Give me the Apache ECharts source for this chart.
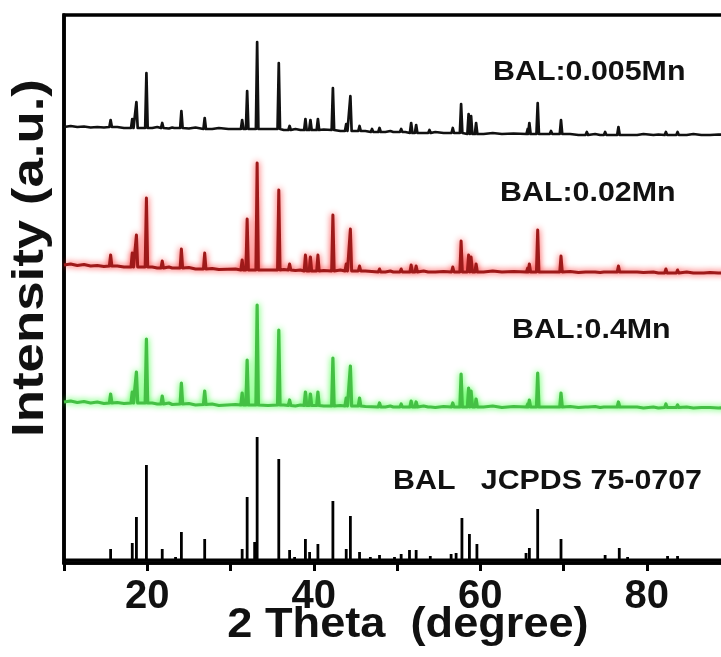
<!DOCTYPE html>
<html><head><meta charset="utf-8">
<script src="https://cdn.jsdelivr.net/npm/echarts@6/dist/echarts.min.js"></script>
<style>html,body{margin:0;padding:0;background:#fff}#c{width:721px;height:657px}</style>
</head><body><div id="c"></div>
<script>
// x tick labels shown
const xTickLabels = [20, 40, 60, 80];
const seriesNames = ['BAL:0.005Mn', 'BAL:0.02Mn', 'BAL:0.4Mn', 'BAL   JCPDS 75-0707'];

// peaks: [2theta, local baseline, peak top] (stacked a.u.)
const blackPeaks = [[15.6,436,443],[18.2,435,444],[18.7,435,461],[19.9,435,490],[21.8,435,440],[23.4,435,437],[24.1,435,452],[26.9,434,445],[29.9,434,436],[31.4,434,443],[32.0,434,472],[33.2,434,521],[35.8,434,500],[37.1,433,437],[39.0,433,444],[39.6,433,443],[40.5,433,444],[42.3,433,475],[43.9,432,439],[44.4,432,467],[45.5,432,437],[47.0,431,434],[47.9,431,435],[49.7,431,433],[50.5,431,434],[51.7,430,440],[52.3,430,438],[53.9,430,433],[56.7,430,435],[57.7,430,459],[58.6,429,449],[58.9,429,447],[59.5,429,440],[65.7,429,434],[65.9,429,440],[66.9,429,460],[68.5,429,432],[69.7,429,443],[72.8,428,431],[75.0,428,431],[76.6,428,436],[78.7,428,430],[82.3,428,431],[83.7,428,431],[86.7,428,430]];
const blackBase = [[10,436],[10.8,437],[11.6,436],[12.4,436.5],[13.2,435.5],[14,436],[14.8,435.5],[16.4,436],[17.2,435],[20.6,435],[21.2,436],[22.6,434.5],[23,435.5],[25,434.5],[25.8,435.5],[27.8,434],[28.6,435],[30.6,434],[34.5,434],[36.4,433],[37.8,434],[38.4,433],[41.2,433.5],[43.2,432],[46.2,432],[48.6,431],[49.2,432],[51,431],[53.2,430],[54.6,431],[55.6,430],[60.4,429],[61.5,430],[62.6,429],[64,429.5],[67.8,429],[70.8,429],[71.8,428],[73.8,429],[74.4,428],[77.8,428],[79.6,429],[80.8,428],[81.4,428.5],[84.8,428],[85.6,429],[87.6,428],[88.6,428.5],[90,428]];

const redPeaks = [[15.6,297,308],[18.2,296,310],[18.7,296,328],[19.9,296,365],[21.8,295,302],[24.1,295,314],[26.9,294,310],[31.4,293,303],[32.0,293,344],[33.2,293,400],[35.8,293,373],[37.1,293,299],[39.0,292,308],[39.6,292,306],[40.5,292,308],[42.3,292,348],[43.9,292,299],[44.4,292,334],[45.5,292,297],[47.9,291,294],[49.7,291,293],[50.5,291,294],[51.7,291,298],[52.3,291,297],[53.9,291,293],[56.7,291,296],[57.7,291,322],[58.6,291,308],[58.9,291,306],[59.5,291,299],[65.7,291,295],[65.9,291,299],[66.9,291,333],[68.5,291,293],[69.7,291,307],[72.8,291,293],[75.0,291,293],[76.6,291,297],[78.7,291,292],[82.3,290,294],[83.7,290,293],[86.7,290,292]];
const redBase = [[10,298],[10.8,299],[11.6,297.5],[12.4,298.5],[13.2,297],[14,297.5],[14.8,296.5],[16.4,297],[17.2,296],[20.6,296],[21.2,295],[22.6,296],[23,295],[25,295.5],[25.8,294],[27.8,294.5],[28.6,293.5],[30.6,294],[34.5,293],[36.4,293.5],[37.8,292.5],[38.4,293],[41.2,292.5],[43.2,293],[46.2,292],[48.6,291],[49.2,292],[51,291],[53.2,292],[54.6,291],[55.6,291.5],[60.4,291],[61.5,292],[62.6,291],[64,291.5],[67.8,291],[70.8,291.5],[71.8,290.5],[73.8,291],[74.4,290.5],[77.8,291],[79.6,290.5],[80.8,291],[81.4,290],[84.8,291],[85.6,290],[87.6,290.5],[88.6,290],[90,290.5]];

const greenPeaks = [[15.6,160,169],[18.2,160,171],[18.7,160,191],[19.9,160,224],[21.8,159,167],[24.1,159,180],[26.9,158.5,172],[31.4,158,170],[32.0,158,203],[33.2,158,258],[35.8,158,233],[37.1,157.5,163],[39.0,157.5,171],[39.6,157.5,169],[40.5,157.5,171],[42.3,157,205],[43.9,157,165],[44.4,157,197],[45.5,157,165],[47.9,156,160],[49.7,156,158],[50.5,156,159],[51.7,156,162],[52.3,156,161],[53.9,156,158],[56.7,156,160],[57.7,156,189],[58.6,156,175],[58.9,156,172],[59.5,156,164],[65.7,156,159],[65.9,156,163],[66.9,156,190],[68.5,156,158],[69.7,156,170],[72.8,156,158],[75.0,156,158],[76.6,156,161],[78.7,156,157],[82.3,155.5,159],[83.7,155.5,158],[86.7,155.5,157]];
const greenBase = [[10,161],[10.8,162],[11.6,160.5],[12.4,161.5],[13.2,160],[14,161],[14.8,159.5],[16.4,160.5],[17.2,159.5],[20.6,160],[21.2,159],[22.6,160],[23,158.5],[25,159.5],[25.8,158],[27.8,159],[28.6,157.5],[30.6,158.5],[34.5,157.5],[36.4,158],[37.8,157],[38.4,158],[41.2,157],[43.2,157.5],[46.2,156.5],[48.6,156],[49.2,157],[51,156],[53.2,157],[54.6,155.5],[55.6,156.5],[60.4,156],[61.5,157],[62.6,155.5],[64,156.5],[67.8,156],[70.8,156.5],[71.8,155.5],[73.8,156.5],[74.4,155.5],[77.8,156],[79.6,155],[80.8,156],[81.4,155],[84.8,156],[85.6,155],[87.6,155.5],[88.6,155],[90,155.5]];

// standard pattern sticks: [2theta, stick height]
const refBaseLevel = 3;
const refSticks = [[15.6,11],[18.2,17],[18.7,43],[19.9,95],[21.8,11],[23.4,3],[24.1,28],[26.9,21],[29.9,2],[31.4,11],[32.0,63],[32.9,18],[33.2,123],[35.8,101],[37.1,10],[37.7,3],[39.0,21],[39.5,8],[40.5,16],[42.3,59],[43.9,11],[44.4,44],[45.5,8],[46.8,3],[47.9,5],[49.7,3],[50.5,6],[51.5,10],[52.3,10],[54.0,4],[56.5,6],[57.1,7],[57.8,42],[58.7,26],[59.6,16],[64.3,2],[65.5,7],[65.9,12],[66.9,51],[68.5,2],[69.7,21],[71.8,2],[74.0,2],[75.0,5],[75.7,2],[76.7,12],[77.7,3],[78.7,2],[82.5,4],[83.7,4],[86.7,2]];

function trace(base, peaks) {
  const pts = base.map(p => [p[0], p[1]]);
  peaks.forEach(p => { pts.push([p[0] - 0.15, p[1]], [p[0], p[2]], [p[0] + 0.15, p[1]]); });
  pts.sort((a, b) => a[0] - b[0]);
  return pts;
}
function sticks(list, b) {
  const pts = [[10, b]];
  list.forEach(s => { pts.push([s[0], b], [s[0], b + s[1]], [s[0], b]); });
  pts.push([90, b]);
  return pts;
}

const F = 'Liberation Sans, Arial, sans-serif';
const chart = echarts.init(document.getElementById('c'), null, {renderer: 'canvas'});
function lbl(text, x, y, size, sx, rot, center) {
  const al = center ? 'center' : 'left';
  return {type: 'text', x: x, y: y, scaleX: sx, rotation: rot || 0, z: 100,
    style: {text: text, fill: '#111', font: 'bold ' + size + 'px ' + F, fontSize: size, fontWeight: 'bold', fontFamily: F,
      align: al, verticalAlign: 'middle', textAlign: al, textVerticalAlign: 'middle'}};
}
const option = {
  animation: false,
  backgroundColor: '#fff',
  grid: {left: 64, top: 15, width: 666, height: 548, outerBoundsMode: 'none', containLabel: false,
    show: true, borderColor: '#000', borderWidth: 3.5, backgroundColor: 'transparent'},
  xAxis: {type: 'value', min: 10, max: 90, interval: 10,
    axisLine: {show: true, onZero: false, lineStyle: {color: '#000', width: 3.5}},
    axisTick: {show: true, inside: false, length: 8, lineStyle: {color: '#000', width: 3}},
    axisLabel: {margin: 14, color: '#111', fontSize: 40, fontWeight: 'bold', fontFamily: F,
      formatter: v => xTickLabels.indexOf(v) >= 0 ? String(v) : ''},
    splitLine: {show: false}},
  yAxis: {type: 'value', min: 0, max: 548,
    axisLine: {show: true, lineStyle: {color: '#000', width: 3.5}},
    axisTick: {show: false}, axisLabel: {show: false}, splitLine: {show: false}},
  series: [
    {name: seriesNames[0], type: 'line', data: trace(blackBase, blackPeaks), showSymbol: false, symbol: 'none',
      lineStyle: {color: '#111', width: 2.7, join: 'round'}, z: 5},
    {name: seriesNames[1], type: 'line', data: trace(redBase, redPeaks), showSymbol: false, symbol: 'none',
      lineStyle: {color: '#9e1a1a', width: 3, join: 'round', shadowColor: 'rgba(255,20,20,0.9)', shadowBlur: 6}, z: 4},
    {name: seriesNames[2], type: 'line', data: trace(greenBase, greenPeaks), showSymbol: false, symbol: 'none',
      lineStyle: {color: '#45c045', width: 3.2, join: 'round', shadowColor: 'rgba(40,255,40,0.9)', shadowBlur: 6}, z: 3},
    {name: seriesNames[3], type: 'line', data: sticks(refSticks, refBaseLevel), showSymbol: false, symbol: 'none',
      lineStyle: {color: '#000', width: 2.8, join: 'miter'}, z: 6}
  ],
  graphic: [
    lbl(seriesNames[0], 493, 72, 28, 1.085),
    lbl(seriesNames[1], 500, 193, 28, 1.085),
    lbl(seriesNames[2], 512, 330, 28, 1.085),
    lbl(seriesNames[3], 393, 481, 28, 1.085),
    lbl('2 Theta  (degree)', 408, 625, 43, 1.05, 0, true),
    lbl('Intensity (a.u.)', 31, 258, 44, 1.2, Math.PI / 2, true)
  ]
};
chart.setOption(option);
</script>
</body></html>
